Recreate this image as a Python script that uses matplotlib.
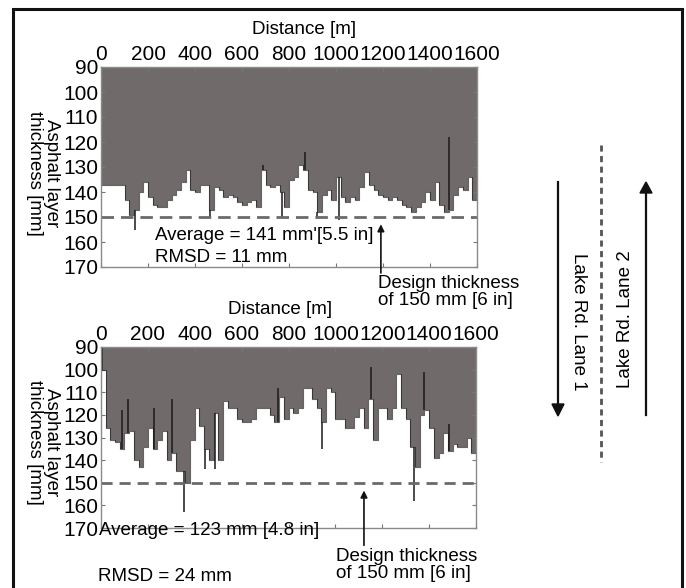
import numpy as np
import matplotlib.pyplot as plt
from matplotlib.patches import Rectangle

plt.rcParams['font.family'] = ['Liberation Sans', 'DejaVu Sans']
plt.rcParams['font.size'] = 13.5

# ----------------- DATA -----------------

distance = np.arange(0, 1601, 20)   # m

# lane 1 (top panel), thickness in mm
thick_top = [137, 137, 137, 137, 137, 143, 149, 147, 140, 136,
             142, 145, 146, 146, 143, 141, 139, 136, 131, 139,
             140, 137, 137, 147, 138, 139, 142, 141, 142, 144,
             145, 144, 143, 146, 131, 137, 138, 137, 140, 146,
             135, 134, 129, 131, 139, 140, 148, 141, 139, 143,
             134, 142, 144, 142, 143, 138, 132, 137, 139, 141,
             142, 143, 142, 143, 145, 146, 148, 146, 144, 140,
             143, 136, 145, 148, 147, 141, 138, 139, 134, 143, 143]
spike_top_m = [145, 465, 690, 770, 869, 920, 1011, 1480]
spike_top_val = [155, 150, 129, 150, 124, 150, 151, 118]

# lane 2 (bottom panel)
thick_bot = [100, 126, 131, 132, 135, 128, 127, 140, 143, 134,
             126, 135, 131, 127, 140, 137, 145, 145, 150, 131,
             117, 125, 135, 140, 119, 140, 114, 117, 117, 122,
             123, 123, 122, 117, 117, 117, 120, 123, 112, 122,
             117, 119, 117, 108, 108, 113, 117, 123, 108, 110,
             122, 122, 126, 126, 121, 117, 126, 113, 131, 117,
             117, 122, 117, 102, 117, 122, 134, 143, 120, 118,
             126, 139, 137, 128, 136, 133, 134, 134, 130, 137, 137]
spike_bot_m = [6, 88, 117, 228, 303, 352, 445, 485, 754, 945, 1153, 1335, 1380, 1485]
spike_bot_val = [90, 118, 113, 117, 113, 163, 144, 144, 108, 135, 99, 158, 101, 124]

xticks = np.arange(0, 1601, 200)
yticks = np.arange(90, 171, 10)
design = 150

fill_col = '#706b6a'

fig = plt.figure(figsize=(6.86, 5.88), dpi=100)

# outer frame
fig.patches.append(Rectangle((13 / 686, -0.02), 669 / 686, 1.0047, transform=fig.transFigure,
                             fill=False, lw=2.2, ec='#111111'))

ax1 = fig.add_axes([101 / 686, 1 - 267 / 588, 376 / 686, 200 / 588])
ax2 = fig.add_axes([101 / 686, 1 - 528 / 588, 375 / 686, 181 / 588])


def profile(ax, thick, spike_m, spike_val, dash):
    thick = np.array(thick)
    ax.fill_between(distance, 90, thick, step='post', color=fill_col, lw=0)
    ax.step(distance, thick, where='post', color='#222222', lw=0.8, alpha=0.7)
    idx = np.searchsorted(distance, spike_m, side='right') - 1
    ax.vlines(spike_m, thick[idx], spike_val, color='#1a1a1a', lw=1.1)
    ax.plot([0, 1600], [design, design], color='#6a6a6a', lw=2, linestyle=(0, dash))
    ax.set_xlim(0, 1600)
    ax.set_ylim(170, 90)
    ax.set_xticks(xticks)
    ax.set_yticks(yticks)
    ax.tick_params(direction='in', top=True, bottom=True, left=True, right=True,
                   labeltop=True, labelbottom=False, length=3, pad=2, color='#777777',
                   labelsize=15)
    for s in ax.spines.values():
        s.set_color('#8a8a8a')
        s.set_linewidth(1)


profile(ax1, thick_top, spike_top_m, spike_top_val, (4.5, 2.5))
profile(ax2, thick_bot, spike_bot_m, spike_bot_val, (4, 2.5))

# axis titles
fig.text(304 / 686, 1 - 30 / 588, 'Distance [m]', ha='center', va='center')
fig.text(280 / 686, 1 - 309 / 588, 'Distance [m]', ha='center', va='center')
fig.text(43 / 686, 1 - 173 / 588, 'Asphalt layer\nthickness [mm]', rotation=270,
         ha='center', va='center', linespacing=1.0)
fig.text(43 / 686, 1 - 442 / 588, 'Asphalt layer\nthickness [mm]', rotation=270,
         ha='center', va='center', linespacing=1.0)

# annotations, top
ax1.text(230, 157.2, "Average = 141 mm'[5.5 in]", va='center')
ax1.text(230, 166, 'RMSD = 11 mm', va='center')
fig.text(378 / 686, 1 - 292 / 588, 'Design thickness\nof 150 mm [6 in]', va='center',
         linespacing=1.05)
ax1.annotate('', xy=(1191, 151.8), xytext=(1191, 173.5), annotation_clip=False,
             arrowprops=dict(arrowstyle='-|>', color='#111111', lw=1.2, mutation_scale=10))

# annotations, bottom
ax2.text(-8, 170.9, 'Average = 123 mm [4.8 in]', va='center')
ax2.text(-12, 191.3, 'RMSD = 24 mm', va='center')
fig.text(336 / 686, 1 - 565 / 588, 'Design thickness\nof 150 mm [6 in]', va='center',
         linespacing=1.05)
ax2.annotate('', xy=(1122, 152.2), xytext=(1122, 178.9), annotation_clip=False,
             arrowprops=dict(arrowstyle='-|>', color='#111111', lw=1.2, mutation_scale=10))

# lane sketch on the right
tr = fig.transFigure
fig.add_artist(plt.Line2D([601 / 686, 601 / 686], [1 - 145 / 588, 1 - 462 / 588], transform=tr,
                          color='#555555', lw=2, linestyle=(0, (2.2, 1.6))))
fig.add_artist(plt.Line2D([558 / 686, 558 / 686], [1 - 182 / 588, 1 - 410 / 588], transform=tr,
                          color='#111111', lw=1.6))
fig.add_artist(plt.Line2D([646 / 686, 646 / 686], [1 - 415 / 588, 1 - 188 / 588], transform=tr,
                          color='#111111', lw=1.6))
fig.patches.append(plt.Polygon([[552 / 686, 1 - 404 / 588], [564 / 686, 1 - 404 / 588],
                                [558 / 686, 1 - 416 / 588]], closed=True, transform=tr,
                               color='#111111'))
fig.patches.append(plt.Polygon([[640 / 686, 1 - 193 / 588], [652 / 686, 1 - 193 / 588],
                                [646 / 686, 1 - 182 / 588]], closed=True, transform=tr,
                               color='#111111'))
fig.text(578 / 686, 1 - 322 / 588, 'Lake Rd. Lane 1', rotation=270, ha='center', va='center')
fig.text(625 / 686, 1 - 319 / 588, 'Lake Rd. Lane 2', rotation=90, ha='center', va='center')

fig.savefig('out.png', dpi=100)
